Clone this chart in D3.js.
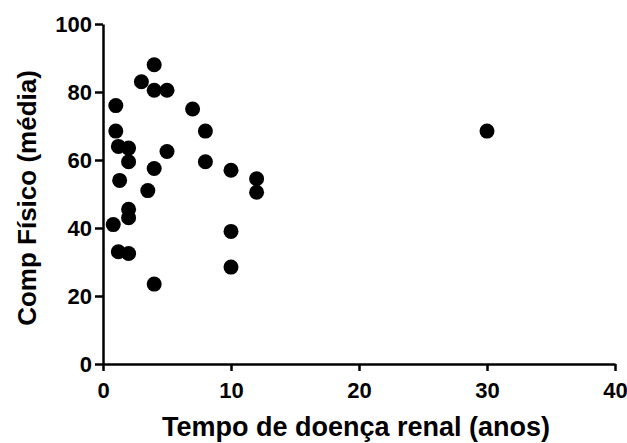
<!DOCTYPE html>
<html>
<head>
<meta charset="utf-8">
<script src="https://cdn.jsdelivr.net/npm/d3@7"></script>
<style>
  body { margin: 0; background: #fff; }
  text { font-family: "Liberation Sans", Arial, sans-serif; font-weight: bold; fill: #000; }
</style>
</head>
<body>
<div id="chart"></div>
<script>
// anos de doença renal
let tempo = [1, 4, 3, 4, 5, 7, 1, 8, 1.2, 2, 5, 2, 8, 4, 10, 1.3, 12, 3.5, 12, 2, 2, 0.8, 10, 1.2, 2, 10, 4, 30];
// componente físico (média)
let compFisico = [76, 88, 83, 80.5, 80.5, 75, 68.5, 68.5, 64, 63.5, 62.5, 59.5, 59.5, 57.5, 57, 54, 54.5, 51, 50.5, 45.5, 43, 41, 39, 33, 32.5, 28.5, 23.5, 68.5];
let xTicks = [0, 10, 20, 30, 40];
let yTicks = [0, 20, 40, 60, 80, 100];

function init() {
    const w = 627;
    const h = 443;
    const margin = {top: 24, right: 12, bottom: 79, left: 103};

    let data = [];
    for (let i = 0; i < tempo.length; i++) {
        data.push({x: tempo[i], y: compFisico[i]});
    }

    var svg = d3.select("#chart")
        .append("svg")
        .attr("width", w)
        .attr("height", h);

    var x = d3.scaleLinear()
        .domain([0, 40])
        .range([margin.left, w - margin.right]);

    var y = d3.scaleLinear()
        .domain([0, 100])
        .range([h - margin.bottom, margin.top]);

    svg.append("g")
        .attr("transform", "translate(0," + (h - margin.bottom) + ")")
        .call(d3.axisBottom(x).tickValues(xTicks).tickSize(7).tickPadding(11).tickSizeOuter(0));

    svg.append("g")
        .attr("transform", "translate(" + margin.left + ",0)")
        .call(d3.axisLeft(y).tickValues(yTicks).tickSize(8).tickPadding(3).tickSizeOuter(0));

    svg.selectAll(".domain, .tick line")
        .attr("stroke", "#000")
        .attr("stroke-width", 2.5);

    svg.selectAll(".tick text")
        .style("font-size", "22px")
        .style("font-weight", "bold")
        .attr("fill", "#222");

    svg.selectAll("circle")
        .data(data)
        .enter()
        .append("circle")
        .attr("cx", function (d) { return x(d.x); })
        .attr("cy", function (d) { return y(d.y); })
        .attr("r", 7.5)
        .attr("fill", "#000");

    svg.append("text")
        .attr("x", 356)
        .attr("y", 436)
        .attr("text-anchor", "middle")
        .style("font-size", "27px")
        .text("Tempo de doença renal (anos)");

    svg.append("text")
        .attr("transform", "translate(36," + 198 + ") rotate(-90)")
        .attr("text-anchor", "middle")
        .style("font-size", "26px")
        .text("Comp Físico (média)");
}

window.onload = init;
</script>
</body>
</html>
